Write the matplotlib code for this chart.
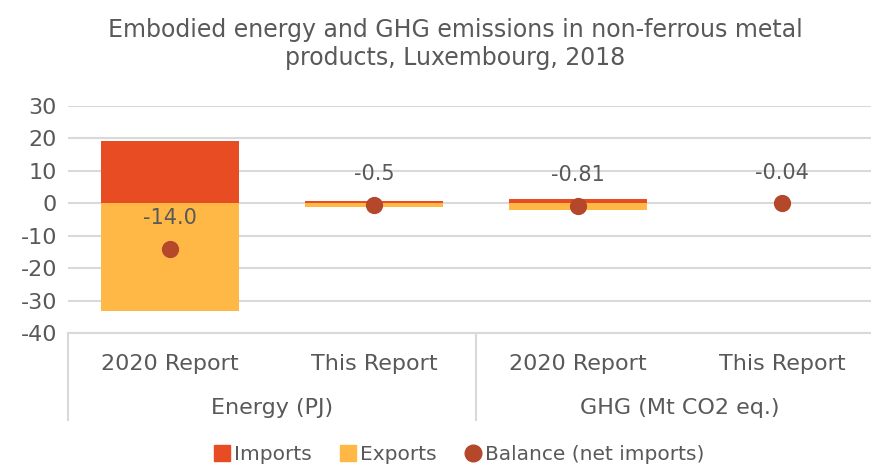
import matplotlib.pyplot as plt
from matplotlib.lines import Line2D

# chart values
categories = ['2020 Report', 'This Report', '2020 Report', 'This Report']
groups = ['Energy (PJ)', 'GHG (Mt CO2 eq.)']
imports = [19.2, 0.6, 1.2, 0.02]
exports = [-33.2, -1.1, -2.0, -0.06]
balance = [-14.0, -0.5, -0.81, -0.04]
balance_labels = ['-14.0', '-0.5', '-0.81', '-0.04']

c_imp = '#E84C22'
c_exp = '#FFB845'
c_bal = '#B5472A'
c_txt = '#595959'
c_grid = '#D9D9D9'

plt.rcParams['font.family'] = ['DejaVu Sans']
plt.rcParams['axes.unicode_minus'] = False

fig = plt.figure(figsize=(8.71, 4.66), dpi=100)
ax = fig.add_axes([68 / 871, 1 - 333 / 466, 816 / 871, 227 / 466])

x = list(range(len(categories)))
ax.bar(x, imports, width=0.68, color=c_imp, zorder=2)
ax.bar(x, exports, width=0.68, color=c_exp, zorder=2)
ax.scatter(x, balance, s=130, color=c_bal, zorder=3)

for xi, yi, lab in zip(x, balance, balance_labels):
    ax.annotate(lab, (xi, yi), xytext=(0, 22), textcoords='offset points',
                ha='center', va='center', fontsize=15, color=c_txt)

ax.set_xlim(-0.5, 3.5)
ax.set_ylim(-40, 30)
ax.set_yticks(range(-40, 31, 10))
ax.yaxis.grid(True, color=c_grid, lw=1.5, zorder=0)
ax.tick_params(axis='y', length=0, labelsize=16, labelcolor=c_txt, pad=8)
ax.set_xticks([])
for s in ax.spines.values():
    s.set_visible(False)

# two level category axis
tr = ax.get_xaxis_transform()
ax.plot([-0.5, 3.5], [0, 0], transform=tr, color=c_grid, lw=1.5, clip_on=False)
for xv in [-0.5, 1.5, 3.5]:
    ax.plot([xv, xv], [0, -0.385], transform=tr, color=c_grid, lw=1.5, clip_on=False)
for xi, cat in zip(x, categories):
    ax.text(xi, -0.135, cat, transform=tr, ha='center', va='center',
            fontsize=16, color=c_txt)
for gi, g in enumerate(groups):
    ax.text(0.5 + 2 * gi, -0.33, g, transform=tr, ha='center', va='center',
            fontsize=16, color=c_txt)

fig.text(455 / 871, 1 - 44 / 466,
         'Embodied energy and GHG emissions in non-ferrous metal\nproducts, Luxembourg, 2018',
         ha='center', va='center', fontsize=17, color=c_txt, linespacing=1.2)

handles = [Line2D([], [], marker='s', ls='', color=c_imp, markersize=12),
           Line2D([], [], marker='s', ls='', color=c_exp, markersize=12),
           Line2D([], [], marker='o', ls='', color=c_bal, markersize=12)]
fig.legend(handles, ['Imports', 'Exports', 'Balance (net imports)'],
           loc='center', bbox_to_anchor=(458 / 871, 1 - 455 / 466), ncol=3,
           frameon=False, fontsize=14.5, labelcolor=c_txt, handletextpad=0.1,
           columnspacing=1.3, handlelength=1.0)

fig.savefig('out.png', dpi=100)
